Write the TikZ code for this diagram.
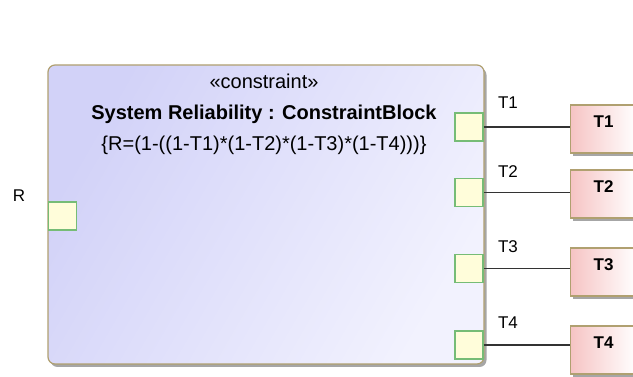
\documentclass[tikz,border=0pt]{standalone}
\usepackage{fontspec}
\setmainfont{Liberation Sans}
\usetikzlibrary{shadows}
\definecolor{constraintblue}{RGB}{210,210,248}
\definecolor{constraintlight}{RGB}{242,242,254}
\definecolor{constraintedge}{RGB}{176,160,112}
\definecolor{portyellow}{RGB}{255,253,218}
\definecolor{portgreen}{RGB}{118,188,118}
\definecolor{partpink}{RGB}{246,196,196}

\begin{document}
\begin{tikzpicture}[x=1pt,y=-1pt,
		block/.style={draw=constraintedge,line width=1.2pt,rounded corners=7pt,left color=constraintblue,right color=constraintlight,shading angle=60,minimum width=436pt,minimum height=299pt,drop shadow={shadow xshift=2.5pt,shadow yshift=-3pt,fill=black!35,opacity=1}},
		port/.style={draw=portgreen,line width=1.2pt,fill=portyellow,minimum size=28pt,inner sep=0pt},
		part/.style={draw=constraintedge,line width=1.2pt,left color=partpink,right color=white,minimum width=66pt,minimum height=48pt,anchor=west,drop shadow={shadow xshift=2.5pt,shadow yshift=-3pt,fill=black!35,opacity=1}},
		wire/.style={draw=black!80,line width=1.2pt},
		plabel/.style={font=\fontsize{17}{20}\selectfont}]
		\useasboundingbox (0,0) rectangle (633,377);
		\clip (0,0) rectangle (633,377);
		
		\node[block] (sr) at (266,214.5) {};
		\node[anchor=north,inner sep=0pt,align=center,font=\fontsize{20}{31}\selectfont] (srtext) at (264,74) {«constraint»\\\textbf{System Reliability : ConstraintBlock}\\\{R=(1-((1-T1)*(1-T2)*(1-T3)*(1-T4)))\}};
		
		\node[port] (pR) at (62.5,216) {};
		\node[port] (pT1) at (469,127) {};
		\node[port] (pT2) at (469,192.5) {};
		\node[port] (pT3) at (469,268.5) {};
		\node[port] (pT4) at (469,345) {};
		
		\node[plabel] (lR) at (19,196) {R};
		\node[plabel] (lT1) at (508,103) {T1};
		\node[plabel] (lT2) at (508,172) {T2};
		\node[plabel] (lT3) at (508,247) {T3};
		\node[plabel] (lT4) at (508,323) {T4};
		
		\node[part,label={[anchor=north,yshift=-8pt,font=\bfseries\fontsize{17}{20}\selectfont]north:T1}] (t1) at (570,129) {};
		\node[part,label={[anchor=north,yshift=-8pt,font=\bfseries\fontsize{17}{20}\selectfont]north:T2}] (t2) at (570,194) {};
		\node[part,label={[anchor=north,yshift=-8pt,font=\bfseries\fontsize{17}{20}\selectfont]north:T3}] (t3) at (570,272) {};
		\node[part,label={[anchor=north,yshift=-8pt,font=\bfseries\fontsize{17}{20}\selectfont]north:T4}] (t4) at (570,350) {};
		
		\draw[wire] (pT1.east) -- (pT1.east -| t1.west);
		\draw[wire] (pT2.east) -- (pT2.east -| t2.west);
		\draw[wire] (pT3.east) -- (pT3.east -| t3.west);
		\draw[wire] (pT4.east) -- (pT4.east -| t4.west);
	\end{tikzpicture}
\end{document}
